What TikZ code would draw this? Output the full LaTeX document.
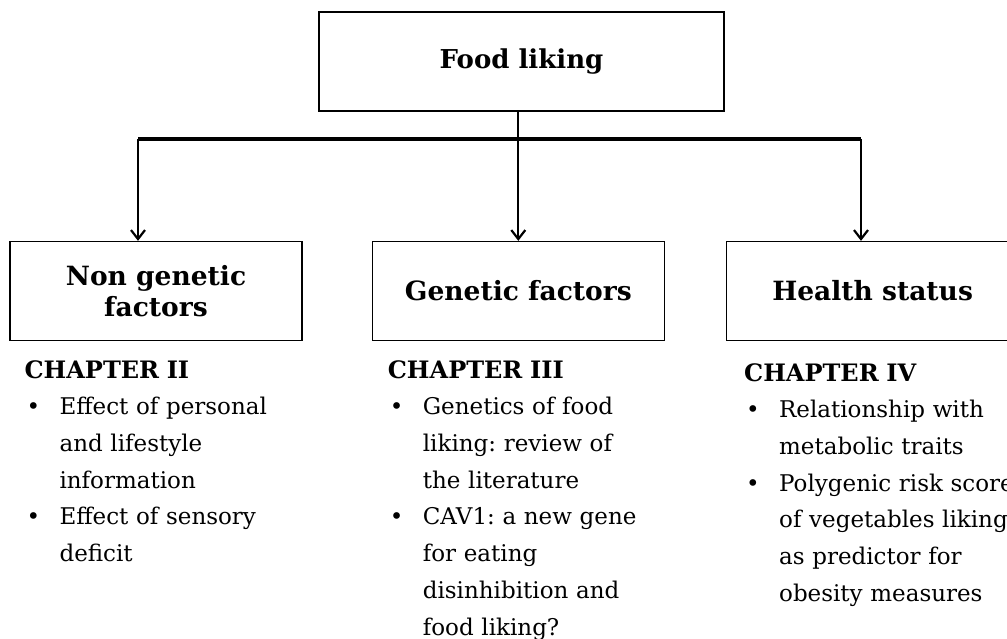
\documentclass[tikz,border=0pt]{standalone}
\usepackage{fontspec}
\setmainfont{DejaVu Serif}
\usetikzlibrary{positioning, arrows.meta}
\frenchspacing

% bullet line with hanging indent
\newcommand{\bulitem}{\par\hangindent=35pt\hangafter=1\noindent\makebox[35pt][l]{\hspace{2pt}\textbullet}}

\begin{document}
\begin{tikzpicture}[x=1pt, y=-1pt, font=\fontsize{23}{36.7}\selectfont,
    box/.style={draw, line width=1.3pt, minimum width=292pt, minimum height=99pt, inner sep=0pt, align=center},
    boxlabel/.style={font=\fontsize{26.5}{31}\selectfont\bfseries},
    chapter/.style={text width=320pt, align=left, inner sep=0pt},
    down/.style={-{Straight Barb[length=9pt, width=14pt]}, line width=2.2pt}]
  \useasboundingbox (0,0) rectangle (1007,639);
  \node[box, minimum width=405pt, font=\fontsize{26}{28}\selectfont\bfseries] (liking) at (521.5,61.5) {Food liking};
  \node[box, boxlabel] (nongen) at (156,291) {Non genetic\\factors};
  \node[box, boxlabel, right=69pt of nongen] (gen) {Genetic factors};
  \node[box, boxlabel, right=61pt of gen] (health) {Health status};
  \coordinate (barleft) at (138,139);
  \coordinate (barright) at (861,139);
  \draw[line width=3.5pt] (barleft) -- (barright);
  \draw[down] (liking.south -| gen.north) -- (gen.north);
  \draw[down] (barleft) -- (barleft |- nongen.north);
  \draw[down] (barright) -- (barright |- health.north);

  \node[chapter, below=19pt of nongen.south west, anchor=north west, xshift=15pt] (chtwo)
    {{\fontsize{24}{36.7}\selectfont\bfseries CHAPTER II}
     \bulitem Effect of personal\newline and lifestyle\newline information
     \bulitem Effect of sensory\newline deficit\par};
  \node[chapter, below=19pt of gen.south west, anchor=north west, xshift=16pt] (chthree)
    {{\fontsize{24}{36.7}\selectfont\bfseries CHAPTER III}
     \bulitem Genetics of food\newline liking: review of\newline the literature
     \bulitem CAV1: a new gene\newline for eating\newline disinhibition and\newline food liking?\par};
  \node[chapter, below=22pt of health.south west, anchor=north west, xshift=18pt] (chfour)
    {{\fontsize{24}{36.7}\selectfont\bfseries CHAPTER IV}
     \bulitem Relationship with\newline metabolic traits
     \bulitem Polygenic risk score\newline of vegetables liking\newline as predictor for\newline obesity measures\par};
\end{tikzpicture}
\end{document}
